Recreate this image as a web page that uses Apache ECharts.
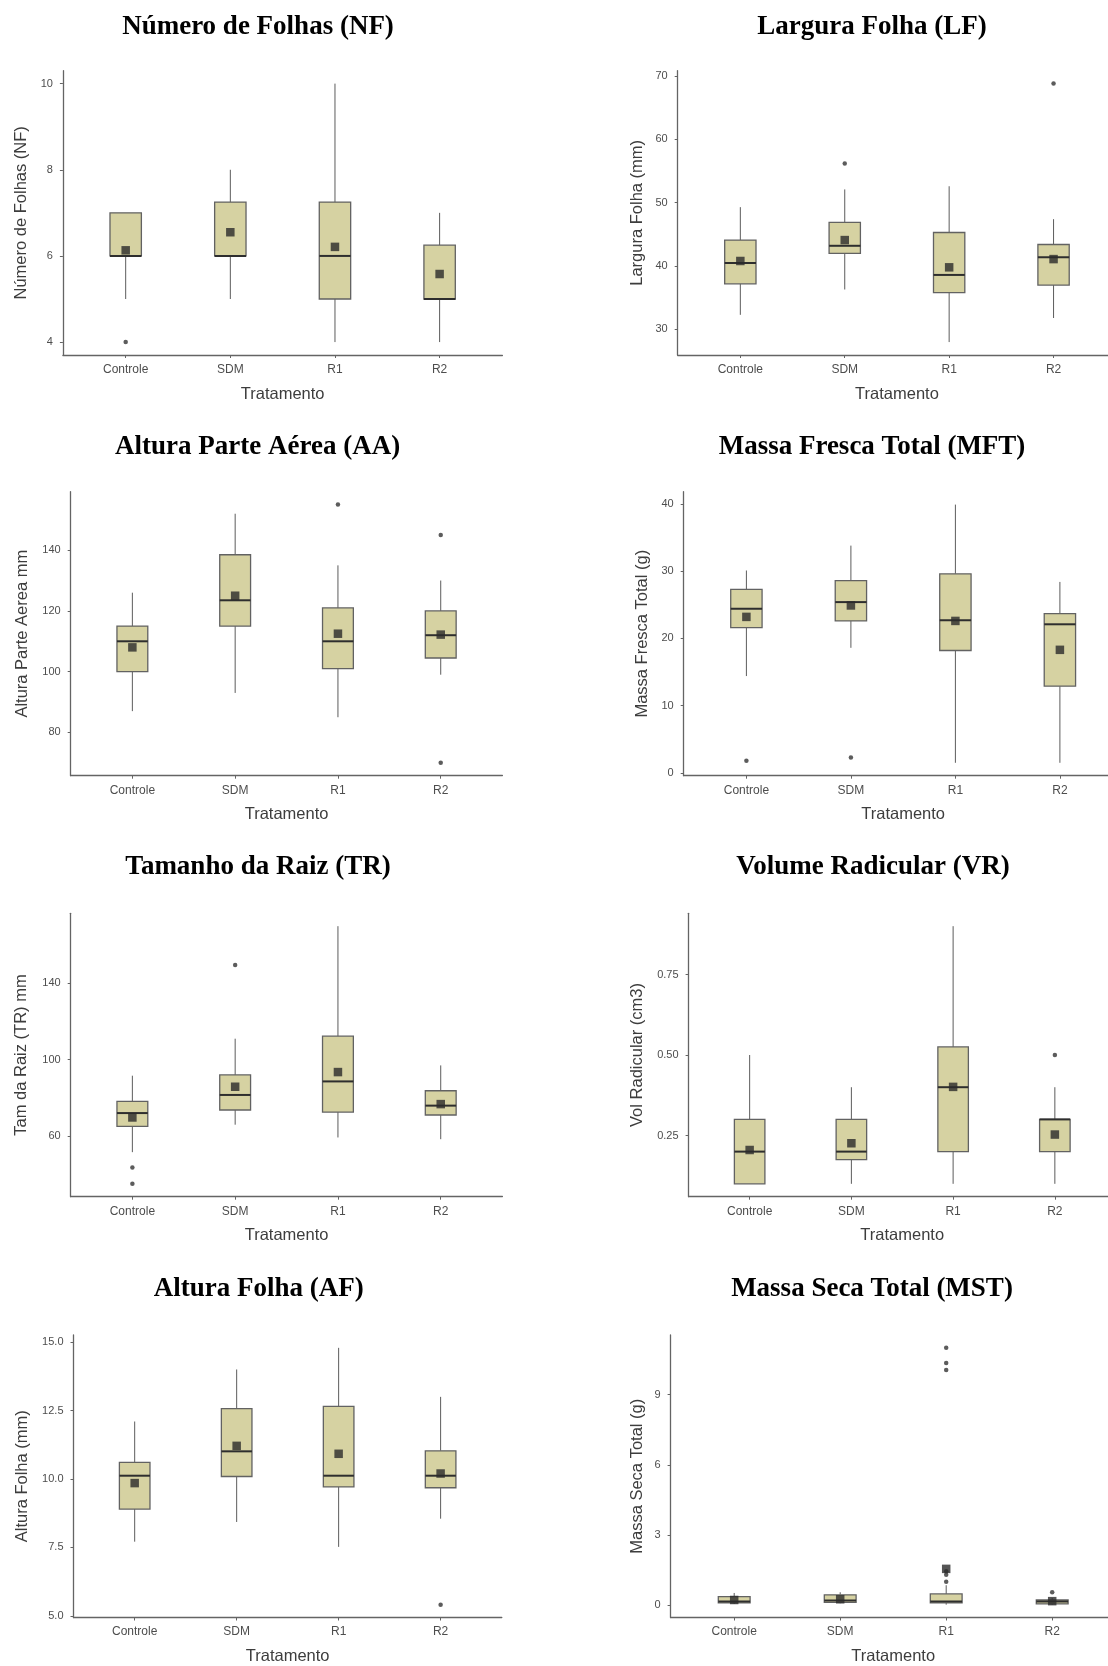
<!DOCTYPE html>
<html><head><meta charset="utf-8">
<script src="https://cdn.jsdelivr.net/npm/echarts@6/dist/echarts.min.js"></script>
<style>html,body{margin:0;padding:0;background:#fff}#c{width:1108px;height:1666px}</style>
</head><body><div id="c"></div>
<script>
const categories = ['Controle', 'SDM', 'R1', 'R2'];
const xTitle = 'Tratamento';

// Número de Folhas (NF)
const nfLow = [5, 5, 4, 4];
const nfQ1 = [6, 6, 5, 5];
const nfMed = [6, 6, 6, 5];
const nfQ3 = [7, 7.25, 7.25, 6.25];
const nfHigh = [7, 8, 10, 7];
const nfMean = [6.13, 6.55, 6.21, 5.58];
const nfOut = [[1, 4]];
const nfTicks = [4, 6, 8, 10];

// Largura Folha (LF)
const lfLow = [32.3, 36.3, 28.0, 31.8];
const lfQ1 = [37.2, 42.0, 35.8, 37.0];
const lfMed = [40.5, 43.2, 38.6, 41.4];
const lfQ3 = [44.1, 46.9, 45.3, 43.4];
const lfHigh = [49.3, 52.1, 52.6, 47.4];
const lfMean = [40.8, 44.1, 39.8, 41.1];
const lfOut = [[2, 56.2], [4, 68.8]];
const lfTicks = [30, 40, 50, 60, 70];

// Altura Parte Aérea (AA)
const aaLow = [87, 93, 85, 99];
const aaQ1 = [100, 115, 101, 104.5];
const aaMed = [110, 123.5, 110, 112];
const aaQ3 = [115, 138.5, 121, 120];
const aaHigh = [126, 152, 135, 130];
const aaMean = [108, 125, 112.5, 112.2];
const aaOut = [[3, 155], [4, 145], [4, 70]];
const aaTicks = [80, 100, 120, 140];

// Massa Fresca Total (MFT)
const mftLow = [14.4, 18.6, 1.5, 1.5];
const mftQ1 = [21.6, 22.6, 18.2, 12.9];
const mftMed = [24.4, 25.4, 22.7, 22.1];
const mftQ3 = [27.3, 28.6, 29.6, 23.7];
const mftHigh = [30.1, 33.8, 39.9, 28.4];
const mftMean = [23.2, 24.9, 22.6, 18.3];
const mftOut = [[1, 1.8], [2, 2.3]];
const mftTicks = [0, 10, 20, 30, 40];

// Tamanho da Raiz (TR)
const trLow = [51.4, 65.8, 59.1, 58.2];
const trQ1 = [64.9, 73.5, 72.4, 70.9];
const trMed = [71.9, 81.4, 88.5, 75.8];
const trQ3 = [78.0, 91.9, 112.2, 83.6];
const trHigh = [91.5, 110.9, 169.9, 96.9];
const trMean = [69.6, 85.7, 93.4, 76.6];
const trOut = [[1, 43.4], [1, 34.8], [2, 149.6]];
const trTicks = [60, 100, 140];

// Volume Radicular (VR)
const vrLow = [0.1, 0.1, 0.1, 0.1];
const vrQ1 = [0.1, 0.175, 0.2, 0.2];
const vrMed = [0.2, 0.2, 0.4, 0.3];
const vrQ3 = [0.3, 0.3, 0.525, 0.3];
const vrHigh = [0.5, 0.4, 0.9, 0.4];
const vrMean = [0.205, 0.226, 0.401, 0.253];
const vrOut = [[4, 0.5]];
const vrTicks = [0.25, 0.50, 0.75];

// Altura Folha (AF)
const afLow = [7.71, 8.43, 7.52, 8.55];
const afQ1 = [8.9, 10.09, 9.71, 9.68];
const afMed = [10.12, 11.01, 10.12, 10.12];
const afQ3 = [10.61, 12.57, 12.65, 11.03];
const afHigh = [12.1, 14.0, 14.79, 13.0];
const afMean = [9.85, 11.21, 10.92, 10.2];
const afOut = [[4, 5.41]];
const afTicks = [5, 7.5, 10, 12.5, 15];

// Massa Seca Total (MST)
const mstLow = [0.05, 0.08, 0.02, 0.02];
const mstQ1 = [0.1, 0.12, 0.1, 0.05];
const mstMed = [0.15, 0.2, 0.15, 0.15];
const mstQ3 = [0.36, 0.44, 0.48, 0.22];
const mstHigh = [0.52, 0.55, 0.85, 0.3];
const mstMean = [0.22, 0.25, 1.55, 0.17];
const mstOut = [[3, 1.0], [3, 1.3], [3, 1.45], [3, 10.05], [3, 10.35], [3, 11.0], [4, 0.55]];
const mstTicks = [0, 3, 6, 9];

const panels = [
  { title: 'Número de Folhas (NF)', yName: 'Número de Folhas (NF)', low: nfLow, q1: nfQ1, med: nfMed, q3: nfQ3, high: nfHigh, mean: nfMean, out: nfOut, ticks: nfTicks, dec: 0,
    L: 62.9, T: 70.7, R: 502.4, Rgg: 502.4, B: 355, tx: 258, ty: 26.7, yd: 41.7 },
  { title: 'Largura Folha (LF)', yName: 'Largura Folha (mm)', low: lfLow, q1: lfQ1, med: lfMed, q3: lfQ3, high: lfHigh, mean: lfMean, out: lfOut, ticks: lfTicks, dec: 0,
    L: 677.7, T: 70.7, R: 1108, Rgg: 1116.2, B: 355, tx: 872, ty: 26.7, yd: 40.7 },
  { title: 'Altura Parte Aérea (AA)', yName: 'Altura Parte Aerea mm', low: aaLow, q1: aaQ1, med: aaMed, q3: aaQ3, high: aaHigh, mean: aaMean, out: aaOut, ticks: aaTicks, dec: 0,
    L: 70.7, T: 491.7, R: 502.4, Rgg: 502.4, B: 775.7, tx: 257.6, ty: 447.3, yd: 48.8 },
  { title: 'Massa Fresca Total (MFT)', yName: 'Massa Fresca Total (g)', low: mftLow, q1: mftQ1, med: mftMed, q3: mftQ3, high: mftHigh, mean: mftMean, out: mftOut, ticks: mftTicks, dec: 0,
    L: 683.7, T: 491.7, R: 1108, Rgg: 1122.6, B: 775.7, tx: 872, ty: 447.3, yd: 41.4 },
  { title: 'Tamanho da Raiz (TR)', yName: 'Tam da Raiz (TR) mm', low: trLow, q1: trQ1, med: trMed, q3: trQ3, high: trHigh, mean: trMean, out: trOut, ticks: trTicks, dec: 0,
    L: 70.7, T: 913.3, R: 502.4, Rgg: 502.4, B: 1196.7, tx: 258, ty: 867, yd: 49.5 },
  { title: 'Volume Radicular (VR)', yName: 'Vol Radicular (cm3)', low: vrLow, q1: vrQ1, med: vrMed, q3: vrQ3, high: vrHigh, mean: vrMean, out: vrOut, ticks: vrTicks, dec: 2,
    L: 688.6, T: 913.3, R: 1108, Rgg: 1115.9, B: 1196.7, tx: 872.9, ty: 867, yd: 51.6 },
  { title: 'Altura Folha (AF)', yName: 'Altura Folha (mm)', low: afLow, q1: afQ1, med: afMed, q3: afQ3, high: afHigh, mean: afMean, out: afOut, ticks: afTicks, dec: 1,
    L: 73.5, T: 1335, R: 501.8, Rgg: 501.8, B: 1618.3, tx: 258.8, ty: 1289, yd: 51.6 },
  { title: 'Massa Seca Total (MST)', yName: 'Massa Seca Total (g)', low: mstLow, q1: mstQ1, med: mstMed, q3: mstQ3, high: mstHigh, mean: mstMean, out: mstOut, ticks: mstTicks, dec: 0,
    L: 670.6, T: 1335, R: 1108, Rgg: 1115.8, B: 1618.3, tx: 872, ty: 1289, yd: 33.6 }
];

const BOX_W = 0.3;
const FILL = '#d6d2a2';
const SANS = 'Liberation Sans, Arial, sans-serif';

function renderBox(params, api) {
  const x = api.value(0);
  const low = api.coord([x, api.value(1)]);
  const q1 = api.coord([x, api.value(2)]);
  const med = api.coord([x, api.value(3)]);
  const q3 = api.coord([x, api.value(4)]);
  const high = api.coord([x, api.value(5)]);
  const w = api.size([BOX_W, 0], [x, api.value(3)])[0];
  const cx = q1[0];
  return {
    type: 'group',
    children: [
      { type: 'line', shape: { x1: cx, y1: high[1], x2: cx, y2: q3[1] }, style: { stroke: '#5c5c5c', lineWidth: 1 } },
      { type: 'line', shape: { x1: cx, y1: q1[1], x2: cx, y2: low[1] }, style: { stroke: '#5c5c5c', lineWidth: 1 } },
      { type: 'rect', shape: { x: cx - w / 2, y: q3[1], width: w, height: q1[1] - q3[1] }, style: { fill: FILL, stroke: '#626262', lineWidth: 1.3 } },
      { type: 'line', shape: { x1: cx - w / 2, y1: med[1], x2: cx + w / 2, y2: med[1] }, style: { stroke: '#2e2e2e', lineWidth: 2 } }
    ]
  };
}

const grid = [], xAxis = [], yAxis = [], series = [], graphic = [];
panels.forEach((p, i) => {
  const all = p.low.concat(p.high, p.out.map(o => o[1]), p.mean);
  const dMin = Math.min(...all), dMax = Math.max(...all);
  const pad = (dMax - dMin) * 0.05;
  const xMax = 0.4 + 4.2 * (p.R - p.L) / (p.Rgg - p.L);
  const shift = p.Rgg - p.R;
  grid.push({ left: p.L, top: p.T, width: p.R - p.L, height: p.B - p.T, containLabel: false });
  xAxis.push({
    type: 'value', gridIndex: i, min: 0.4, max: xMax,
    name: xTitle, nameLocation: 'middle', nameGap: 30.5,
    nameTextStyle: { fontSize: 16.5, color: '#3d3d3d', fontFamily: SANS,
      padding: shift > 0 ? [0, 0, 0, shift] : [0, -shift, 0, 0] },
    axisLine: { show: true, onZero: false, lineStyle: { color: '#646464', width: 1.3 } },
    axisTick: { show: true, length: 3, customValues: [1, 2, 3, 4], lineStyle: { color: '#646464' } },
    axisLabel: { customValues: [1, 2, 3, 4], margin: 8.5, fontSize: 12, color: '#4d4d4d', fontFamily: SANS,
      formatter: v => categories[Math.round(v) - 1] || '' },
    splitLine: { show: false }
  });
  yAxis.push({
    type: 'value', gridIndex: i, min: dMin - pad, max: dMax + pad,
    name: p.yName, nameLocation: 'middle', nameGap: p.yd - 9,
    nameTextStyle: { fontSize: 16.5, color: '#3d3d3d', fontFamily: SANS },
    axisLine: { show: true, onZero: false, lineStyle: { color: '#646464', width: 1.3 } },
    axisTick: { show: true, length: 3, customValues: p.ticks, lineStyle: { color: '#646464' } },
    axisLabel: { customValues: p.ticks, margin: 10, fontSize: 11, color: '#4d4d4d', fontFamily: SANS,
      formatter: v => v.toFixed(p.dec) },
    splitLine: { show: false }
  });
  series.push({
    type: 'custom', xAxisIndex: i, yAxisIndex: i, renderItem: renderBox,
    encode: { x: 0, y: [1, 2, 3, 4, 5] },
    data: categories.map((c, k) => [k + 1, p.low[k], p.q1[k], p.med[k], p.q3[k], p.high[k]]),
    silent: true
  });
  series.push({
    type: 'scatter', xAxisIndex: i, yAxisIndex: i, symbol: 'circle', symbolSize: 4.5,
    itemStyle: { color: '#333333' }, data: p.out, silent: true
  });
  series.push({
    type: 'scatter', xAxisIndex: i, yAxisIndex: i, symbol: 'rect', symbolSize: 8.5,
    itemStyle: { color: '#2b2b2b' }, data: p.mean.map((m, k) => [k + 1, m]), silent: true
  });
  graphic.push({
    type: 'text', x: p.tx, y: p.ty,
    style: { text: p.title, font: 'bold 27px "Liberation Serif", "Times New Roman", serif', fill: '#000', textAlign: 'center', textVerticalAlign: 'middle' }
  });
});

const chart = echarts.init(document.getElementById('c'), null, { renderer: 'canvas' });
chart.setOption({ backgroundColor: '#ffffff', animation: false, grid, xAxis, yAxis, series, graphic });
</script></body></html>
